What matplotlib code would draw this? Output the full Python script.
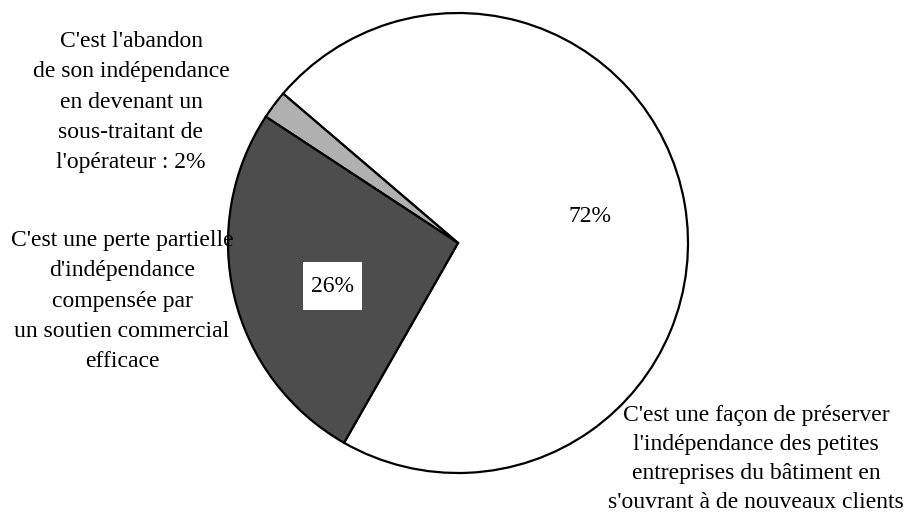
import matplotlib.pyplot as plt
from matplotlib.patches import Rectangle

plt.rcParams["font.family"] = ["Liberation Serif", "DejaVu Serif"]

# Réponses et parts (%)
categories = [
    "C'est une façon de préserver\nl'indépendance des petites\nentreprises du bâtiment en\ns'ouvrant à de nouveaux clients",
    "C'est l'abandon\nde son indépendance\nen devenant un\nsous-traitant de\nl'opérateur : 2%",
    "C'est une perte partielle\nd'indépendance\ncompensée par\nun soutien commercial\nefficace",
]
values = [72, 2, 26]
colours = ["#ffffff", "#b0b0b0", "#4d4d4d"]

W, H = 910, 514
fig = plt.figure(figsize=(W / 100, H / 100), dpi=100, facecolor="white")
ax = fig.add_axes([0, 0, 1, 1])

cx, cy, r = 458, H - 243, 230
wedges, _ = ax.pie(
    values, colors=colours, startangle=-119.7, counterclock=True,
    center=(cx, cy), radius=r,
    wedgeprops=dict(edgecolor="black", linewidth=1.6),
)
ax.set_xlim(0, W)
ax.set_ylim(0, H)
ax.set_aspect("equal")
ax.axis("off")

fs = 17
ls = 1.58
# catégories
ax.text(756, H - 459, categories[0], ha="center", va="center", fontsize=fs, linespacing=1.52)
ax.text(131, H - 102, categories[1], ha="center", va="center", fontsize=fs, linespacing=ls)
ax.text(122, H - 301, categories[2], ha="center", va="center", fontsize=fs, linespacing=ls)

# pourcentages dans les parts
ax.text(590, H - 217, f"{values[0]}%", ha="center", va="center", fontsize=fs)
ax.add_patch(Rectangle((303, H - 310), 59, 48, facecolor="white", edgecolor="none", zorder=3))
ax.text(332, H - 287, f"{values[2]}%", ha="center", va="center", fontsize=fs, zorder=4)

fig.savefig("out.png", dpi=100, facecolor="white")
